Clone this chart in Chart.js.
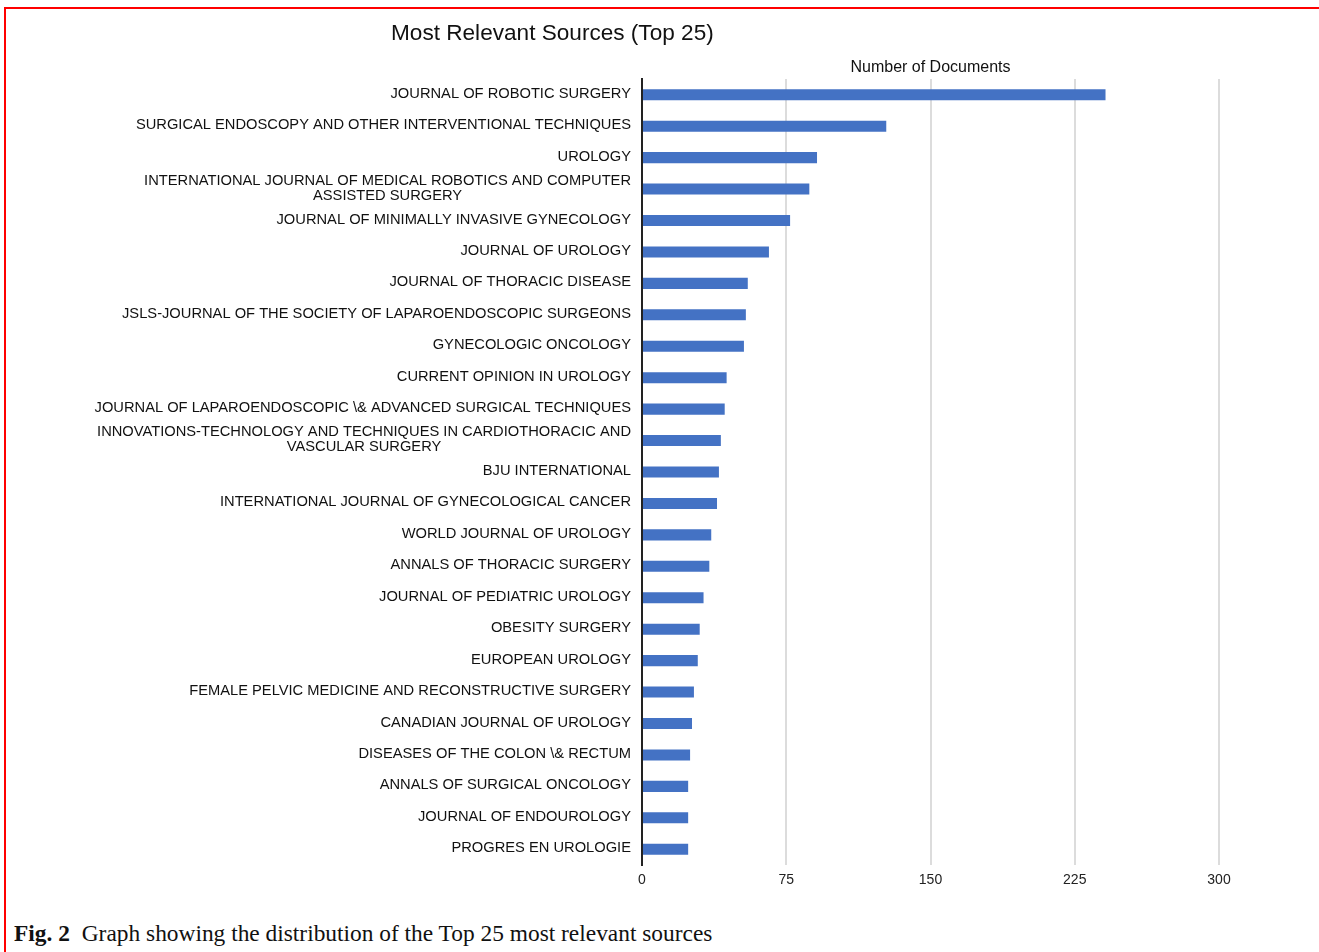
<!DOCTYPE html>
<html>
<head>
<meta charset="utf-8">
<script src="https://cdn.jsdelivr.net/npm/chart.js@4.4.0/dist/chart.umd.min.js"></script>
<style>
  html, body { margin: 0; padding: 0; background: #fff; }
  body { width: 1319px; height: 952px; position: relative; overflow: hidden; }
  #frame { position: absolute; left: 4px; top: 7px; width: 1320px; height: 950px;
           border-top: 2px solid #ff0000; border-left: 2px solid #ff0000; }
  #wrap { position: absolute; left: 0; top: 0; width: 1319px; height: 900px; }
  #title { position: absolute; left: 391px; top: 20px; font: 22.6px "Liberation Sans", Arial, sans-serif;
           color: #111; white-space: nowrap; }
  #caption { position: absolute; left: 14px; top: 920px; font: 23.4px "Liberation Serif", "Times New Roman", serif;
             color: #111; white-space: nowrap; }
  #caption b { margin-right: 6px; }
</style>
</head>
<body>
<div id="frame"></div>
<div id="wrap"><canvas id="sources"></canvas></div>
<div id="title">Most Relevant Sources (Top 25)</div>
<div id="caption"><b>Fig. 2</b> Graph showing the distribution of the Top 25 most relevant sources</div>

<script>
  "use strict";

  var sources = [
    "JOURNAL OF ROBOTIC SURGERY",
    "SURGICAL ENDOSCOPY AND OTHER INTERVENTIONAL TECHNIQUES",
    "UROLOGY",
    ["INTERNATIONAL JOURNAL OF MEDICAL ROBOTICS AND COMPUTER", "ASSISTED SURGERY"],
    "JOURNAL OF MINIMALLY INVASIVE GYNECOLOGY",
    "JOURNAL OF UROLOGY",
    "JOURNAL OF THORACIC DISEASE",
    "JSLS-JOURNAL OF THE SOCIETY OF LAPAROENDOSCOPIC SURGEONS",
    "GYNECOLOGIC ONCOLOGY",
    "CURRENT OPINION IN UROLOGY",
    "JOURNAL OF LAPAROENDOSCOPIC \\& ADVANCED SURGICAL TECHNIQUES",
    ["INNOVATIONS-TECHNOLOGY AND TECHNIQUES IN CARDIOTHORACIC AND", "VASCULAR SURGERY"],
    "BJU INTERNATIONAL",
    "INTERNATIONAL JOURNAL OF GYNECOLOGICAL CANCER",
    "WORLD JOURNAL OF UROLOGY",
    "ANNALS OF THORACIC SURGERY",
    "JOURNAL OF PEDIATRIC UROLOGY",
    "OBESITY SURGERY",
    "EUROPEAN UROLOGY",
    "FEMALE PELVIC MEDICINE AND RECONSTRUCTIVE SURGERY",
    "CANADIAN JOURNAL OF UROLOGY",
    "DISEASES OF THE COLON \\& RECTUM",
    "ANNALS OF SURGICAL ONCOLOGY",
    "JOURNAL OF ENDOUROLOGY",
    "PROGRES EN UROLOGIE"
  ];

  var documents = [241, 127, 91, 87, 77, 66, 55, 54, 53, 44, 43, 41, 40, 39, 36, 35, 32, 30, 29, 27, 26, 25, 24, 24, 24];

  var xTicks = [0, 75, 150, 225, 300];

  // draws the source names, wrapped lines centred on each other
  var sourceLabels = {
    id: "sourceLabels",
    afterDraw: function(chart) {
      var ctx = chart.ctx;
      var y = chart.scales.y;
      ctx.save();
      ctx.font = '14.7px "Liberation Sans", Arial, sans-serif';
      ctx.fillStyle = "#111";
      ctx.textBaseline = "middle";
      ctx.textAlign = "center";
      sources.forEach(function(lab, i) {
        var lines = Array.isArray(lab) ? lab : [lab];
        var w = Math.max.apply(null, lines.map(function(l) { return ctx.measureText(l).width; }));
        var cy = y.getPixelForValue(i) - 1;
        var right = chart.chartArea.left - 11;
        lines.forEach(function(l, j) {
          ctx.fillText(l, right - w / 2, cy + (j - (lines.length - 1) / 2) * 15);
        });
      });
      ctx.restore();
    }
  };

  new Chart("sources", {
    type: "bar",
    data: {
      labels: sources,
      datasets: [{
        data: documents,
        backgroundColor: "#4472C4",
        borderWidth: 0,
        categoryPercentage: 0.8,
        barPercentage: 0.44
      }]
    },
    options: {
      indexAxis: "y",
      responsive: true,
      maintainAspectRatio: false,
      animation: false,
      layout: { padding: { left: 0, right: 100, top: 0, bottom: 0 } },
      plugins: {
        legend: false,
        tooltip: false,
        title: { display: false }
      },
      scales: {
        x: {
          position: "bottom",
          min: 0,
          max: 300,
          afterBuildTicks: function(s) {
            s.ticks = xTicks.map(function(v) { return { value: v }; });
          },
          afterFit: function(s) { s.height = 35; },
          border: { display: false },
          grid: {
            drawTicks: false,
            lineWidth: 2,
            color: function(c) { return c.tick && c.tick.value === 0 ? "#222" : "#dcdcdc"; }
          },
          ticks: {
            padding: 7,
            color: "#222",
            font: { family: '"Liberation Sans", Arial, sans-serif', size: 14 }
          }
        },
        x2: {
          position: "top",
          axis: "x",
          min: 0,
          max: 300,
          afterFit: function(s) { s.height = 79; },
          border: { display: false },
          grid: { display: false },
          ticks: { display: false },
          title: {
            display: true,
            text: "Number of Documents",
            color: "#111",
            padding: { top: 58, bottom: 0 },
            font: { family: '"Liberation Sans", Arial, sans-serif', size: 16 }
          }
        },
        y: {
          afterFit: function(s) { s.width = 642; },
          border: { display: true, color: "#222", width: 2 },
          grid: { display: false },
          ticks: { display: false }
        }
      }
    },
    plugins: [sourceLabels]
  });
</script>
</body>
</html>
